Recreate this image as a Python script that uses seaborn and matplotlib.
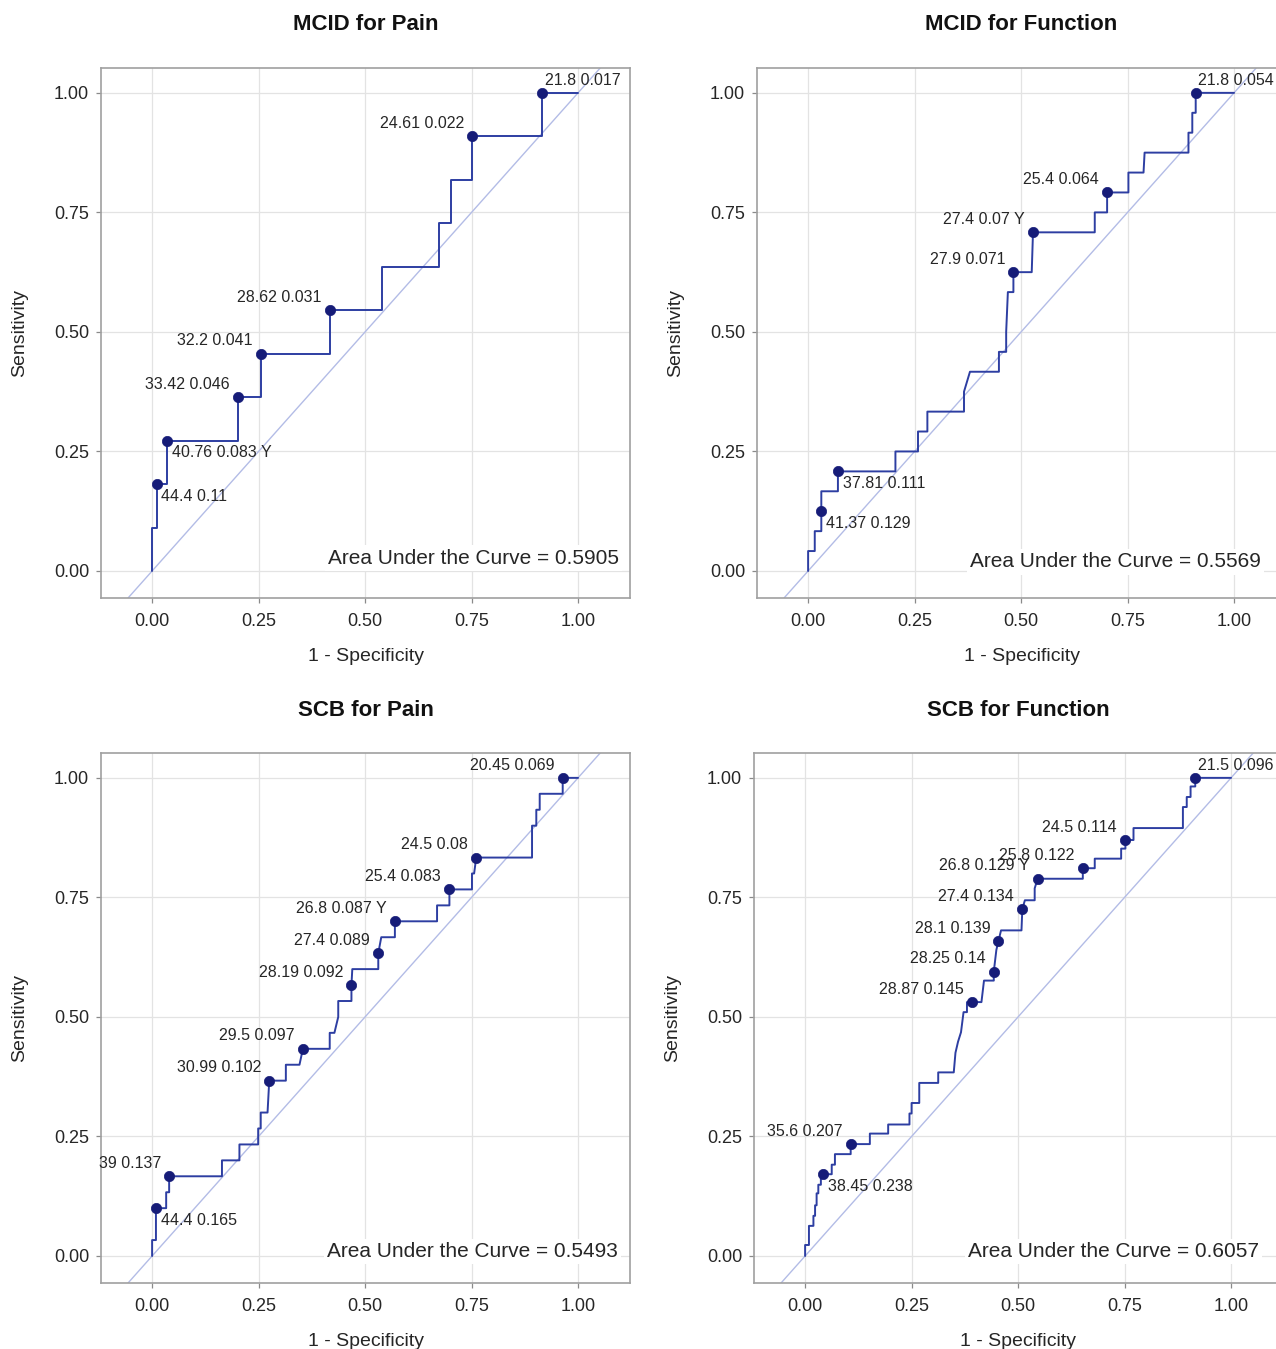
import matplotlib
matplotlib.use("Agg")
import matplotlib.pyplot as plt
import seaborn as sns

# ---------------- data ----------------
titles = ["MCID for Pain", "MCID for Function", "SCB for Pain", "SCB for Function"]
auc_values = [0.5905, 0.5569, 0.5493, 0.6057]
x_ticks = [0.0, 0.25, 0.5, 0.75, 1.0]
y_ticks = [0.0, 0.25, 0.5, 0.75, 1.0]

# Panel 1: MCID for Pain (ROC vertices: 1-specificity, sensitivity)
p1_fpr = [0, 0, 0.0105, 0.0105, 0.035, 0.035, 0.2015, 0.2015, 0.255, 0.255, 0.418, 0.418,
          0.54, 0.54, 0.674, 0.674, 0.701, 0.701, 0.752, 0.752, 0.916, 0.916, 1.0]
p1_tpr = [0, 0.0909, 0.0909, 0.1818, 0.1818, 0.2727, 0.2727, 0.3636, 0.3636, 0.4545, 0.4545, 0.5455,
          0.5455, 0.6364, 0.6364, 0.7273, 0.7273, 0.8182, 0.8182, 0.9091, 0.9091, 1.0, 1.0]
p1_cut_fpr = [0.916, 0.752, 0.418, 0.255, 0.2015, 0.035, 0.0105]
p1_cut_tpr = [1.0, 0.9091, 0.5455, 0.4545, 0.3636, 0.2727, 0.1818]
p1_cut_text = ["21.8 0.017", "24.61 0.022", "28.62 0.031", "32.2 0.041", "33.42 0.046",
               "40.76 0.083 Y", "44.4 0.11"]

# Panel 2: MCID for Function
p2_fpr = [0, 0, 0.0156, 0.0156, 0.031, 0.031, 0.031, 0.070, 0.070, 0.205, 0.205, 0.258, 0.258,
          0.280, 0.280, 0.366, 0.366, 0.380, 0.448, 0.448, 0.465, 0.465, 0.469, 0.482, 0.482,
          0.525, 0.528, 0.673, 0.673, 0.702, 0.702, 0.752, 0.752, 0.7875, 0.790, 0.893, 0.893,
          0.902, 0.902, 0.910, 0.910, 1.0]
p2_tpr = [0, 0.0417, 0.0417, 0.0833, 0.0833, 0.125, 0.1667, 0.1667, 0.2083, 0.2083, 0.25, 0.25,
          0.2917, 0.2917, 0.3333, 0.3333, 0.375, 0.4167, 0.4167, 0.4583, 0.4583, 0.50, 0.5833,
          0.5833, 0.625, 0.625, 0.7083, 0.7083, 0.75, 0.75, 0.7917, 0.7917, 0.8333, 0.8333,
          0.875, 0.875, 0.9167, 0.9167, 0.9583, 0.9583, 1.0, 1.0]
p2_cut_fpr = [0.910, 0.702, 0.528, 0.482, 0.070, 0.031]
p2_cut_tpr = [1.0, 0.7917, 0.7083, 0.625, 0.2083, 0.125]
p2_cut_text = ["21.8 0.054", "25.4 0.064", "27.4 0.07 Y", "27.9 0.071", "37.81 0.111", "41.37 0.129"]

# Panel 3: SCB for Pain
p3_fpr = [0, 0, 0.009, 0.009, 0.033, 0.033, 0.040, 0.040, 0.164, 0.164, 0.205, 0.205, 0.249,
          0.249, 0.255, 0.255, 0.271, 0.275, 0.314, 0.314, 0.346, 0.354, 0.417, 0.417, 0.428,
          0.437, 0.437, 0.468, 0.468, 0.470, 0.531, 0.531, 0.538, 0.570, 0.570, 0.669, 0.669,
          0.698, 0.698, 0.751, 0.751, 0.756, 0.761, 0.892, 0.892, 0.902, 0.902, 0.910, 0.910,
          0.964, 0.964, 1.0]
p3_tpr = [0, 0.0333, 0.0333, 0.1, 0.1, 0.1333, 0.1333, 0.1667, 0.1667, 0.2, 0.2, 0.2333, 0.2333,
          0.2667, 0.2667, 0.3, 0.3, 0.3667, 0.3667, 0.4, 0.4, 0.4333, 0.4333, 0.4667, 0.4667,
          0.5, 0.5333, 0.5333, 0.5667, 0.6, 0.6, 0.6333, 0.6667, 0.6667, 0.7, 0.7, 0.7333,
          0.7333, 0.7667, 0.7667, 0.8, 0.8, 0.8333, 0.8333, 0.9, 0.9, 0.9333, 0.9333, 0.9667,
          0.9667, 1.0, 1.0]
p3_cut_fpr = [0.964, 0.761, 0.698, 0.570, 0.531, 0.468, 0.354, 0.275, 0.040, 0.009]
p3_cut_tpr = [1.0, 0.8333, 0.7667, 0.7, 0.6333, 0.5667, 0.4333, 0.3667, 0.1667, 0.1]
p3_cut_text = ["20.45 0.069", "24.5 0.08", "25.4 0.083", "26.8 0.087 Y", "27.4 0.089",
               "28.19 0.092", "29.5 0.097", "30.99 0.102", "39 0.137", "44.4 0.165"]

# Panel 4: SCB for Function
p4_fpr = [0, 0, 0.009, 0.009, 0.0195, 0.0195, 0.0234, 0.0234, 0.027, 0.027, 0.031, 0.031, 0.037,
          0.037, 0.042, 0.0625, 0.0625, 0.070, 0.070, 0.107, 0.107, 0.152, 0.152, 0.195, 0.195,
          0.245, 0.245, 0.25, 0.25, 0.268, 0.268, 0.3125, 0.3125, 0.349, 0.353, 0.359, 0.366,
          0.372, 0.380, 0.380, 0.392, 0.414, 0.420, 0.443, 0.443, 0.449, 0.454, 0.460, 0.508,
          0.510, 0.516, 0.539, 0.539, 0.546, 0.652, 0.652, 0.680, 0.680, 0.742, 0.742, 0.752,
          0.752, 0.771, 0.771, 0.887, 0.887, 0.896, 0.896, 0.905, 0.905, 0.916, 0.916, 1.0]
p4_tpr = [0, 0.023, 0.023, 0.063, 0.063, 0.084, 0.084, 0.106, 0.106, 0.131, 0.131, 0.149, 0.149,
          0.171, 0.171, 0.171, 0.191, 0.191, 0.213, 0.213, 0.234, 0.234, 0.256, 0.256, 0.275,
          0.275, 0.298, 0.298, 0.320, 0.320, 0.362, 0.362, 0.384, 0.384, 0.425, 0.448, 0.468,
          0.510, 0.510, 0.531, 0.531, 0.531, 0.576, 0.576, 0.595, 0.640, 0.659, 0.681, 0.681,
          0.726, 0.744, 0.744, 0.769, 0.789, 0.789, 0.811, 0.811, 0.831, 0.831, 0.852, 0.852,
          0.870, 0.870, 0.895, 0.895, 0.939, 0.939, 0.960, 0.960, 0.982, 0.982, 1.0, 1.0]
p4_cut_fpr = [0.916, 0.752, 0.652, 0.546, 0.510, 0.454, 0.443, 0.392, 0.107, 0.042]
p4_cut_tpr = [1.0, 0.870, 0.811, 0.789, 0.726, 0.659, 0.595, 0.531, 0.234, 0.171]
p4_cut_text = ["21.5 0.096", "24.5 0.114", "25.8 0.122", "26.8 0.129 Y", "27.4 0.134",
               "28.1 0.139", "28.25 0.14", "28.87 0.145", "35.6 0.207", "38.45 0.238"]

# ---------------- layout / style ----------------
p1_label_pos = ["ur", "ul", "ul", "ul", "ul", "lr", "lr"]
p2_label_pos = ["ur", "ul", "ul", "ul", "lr", "lr"]
p3_label_pos = ["ul"] * 9 + ["lr"]
p4_label_pos = ["ur"] + ["ul"] * 8 + ["lr"]

panels = [
    (p1_fpr, p1_tpr, p1_cut_fpr, p1_cut_tpr, p1_cut_text, p1_label_pos),
    (p2_fpr, p2_tpr, p2_cut_fpr, p2_cut_tpr, p2_cut_text, p2_label_pos),
    (p3_fpr, p3_tpr, p3_cut_fpr, p3_cut_tpr, p3_cut_text, p3_label_pos),
    (p4_fpr, p4_tpr, p4_cut_fpr, p4_cut_tpr, p4_cut_text, p4_label_pos),
]
# axes frames in pixels: left, top, right, bottom
frames = [(101, 68, 630, 598), (757, 68, 1286, 598), (101, 753, 630, 1283), (754, 753, 1283, 1283)]
auc_pos = [(1.096, 0.027), (1.063, 0.019), (1.094, 0.010), (1.066, 0.010)]
label_style = {
    "ul": dict(xytext=(-6, 6), ha="right", va="baseline"),
    "ur": dict(xytext=(2, 6), ha="left", va="baseline"),
    "lr": dict(xytext=(3.5, -12), ha="left", va="baseline"),
}

sns.set_theme(style="whitegrid")
plt.rcParams["font.family"] = ["Liberation Sans", "DejaVu Sans"]
plt.rcParams["axes.unicode_minus"] = False

W, H = 1276, 1349
fig = plt.figure(figsize=(W / 100, H / 100), dpi=100)

CURVE = "#2d3ea2"
MARK = "#161c78"
DIAG = "#b3bce6"
TXT = "#262626"

for i, (fpr, tpr, cfpr, ctpr, ctext, cpos) in enumerate(panels):
    l, t, r, b = frames[i]
    ax = fig.add_axes([l / W, 1 - b / H, (r - l) / W, (b - t) / H])
    ax.set_xlim(-0.12, 1.122)
    ax.set_ylim(-0.0565, 1.052)
    ax.axline((0, 0), (1, 1), color=DIAG, lw=1.0, zorder=1.5)
    sns.lineplot(x=fpr, y=tpr, sort=False, estimator=None, ax=ax, color=CURVE,
                 lw=1.4, zorder=3)
    sns.scatterplot(x=cfpr, y=ctpr, ax=ax, color=MARK, s=55, edgecolor=MARK,
                    linewidth=0.5, zorder=4)
    for xv, yv, txt, pos in zip(cfpr, ctpr, ctext, cpos):
        st = label_style[pos]
        ax.annotate(txt, (xv, yv), xytext=st["xytext"], textcoords="offset points",
                    ha=st["ha"], va=st["va"], fontsize=11.5, color=TXT, zorder=5,
                    annotation_clip=False)
    ax.text(auc_pos[i][0], auc_pos[i][1], f"Area Under the Curve = {auc_values[i]:.4f}",
            ha="right", va="center", fontsize=15, color=TXT, zorder=6,
            bbox=dict(boxstyle="square,pad=0.15", facecolor="white", edgecolor="none"))

    ax.set_xticks(x_ticks)
    ax.set_yticks(y_ticks)
    ax.set_xticklabels([f"{v:.2f}" for v in x_ticks])
    ax.set_yticklabels([f"{v:.2f}" for v in y_ticks])
    ax.tick_params(axis="both", which="major", bottom=True, left=True, direction="out",
                   length=3.6, width=0.9, color="#8a8a8a", labelsize=13, labelcolor=TXT,
                   pad=5)
    ax.tick_params(axis="x", pad=7.5)
    ax.grid(True, color="#e3e3e3", lw=0.9)
    ax.set_axisbelow(True)
    for sp in ax.spines.values():
        sp.set_color("#a0a0a0")
        sp.set_linewidth(1.2)
    ax.set_facecolor("white")
    ax.set_xlabel("1 - Specificity", fontsize=14, color=TXT)
    ax.set_ylabel("Sensitivity", fontsize=14, color=TXT)
    ax.xaxis.set_label_coords(0.5, -0.094)
    ax.yaxis.set_label_coords(-0.137, 0.5)
    ax.set_title(titles[i], fontsize=16, fontweight="bold", color="#111111", pad=27)

fig.savefig("out.png", dpi=100, facecolor="white")
